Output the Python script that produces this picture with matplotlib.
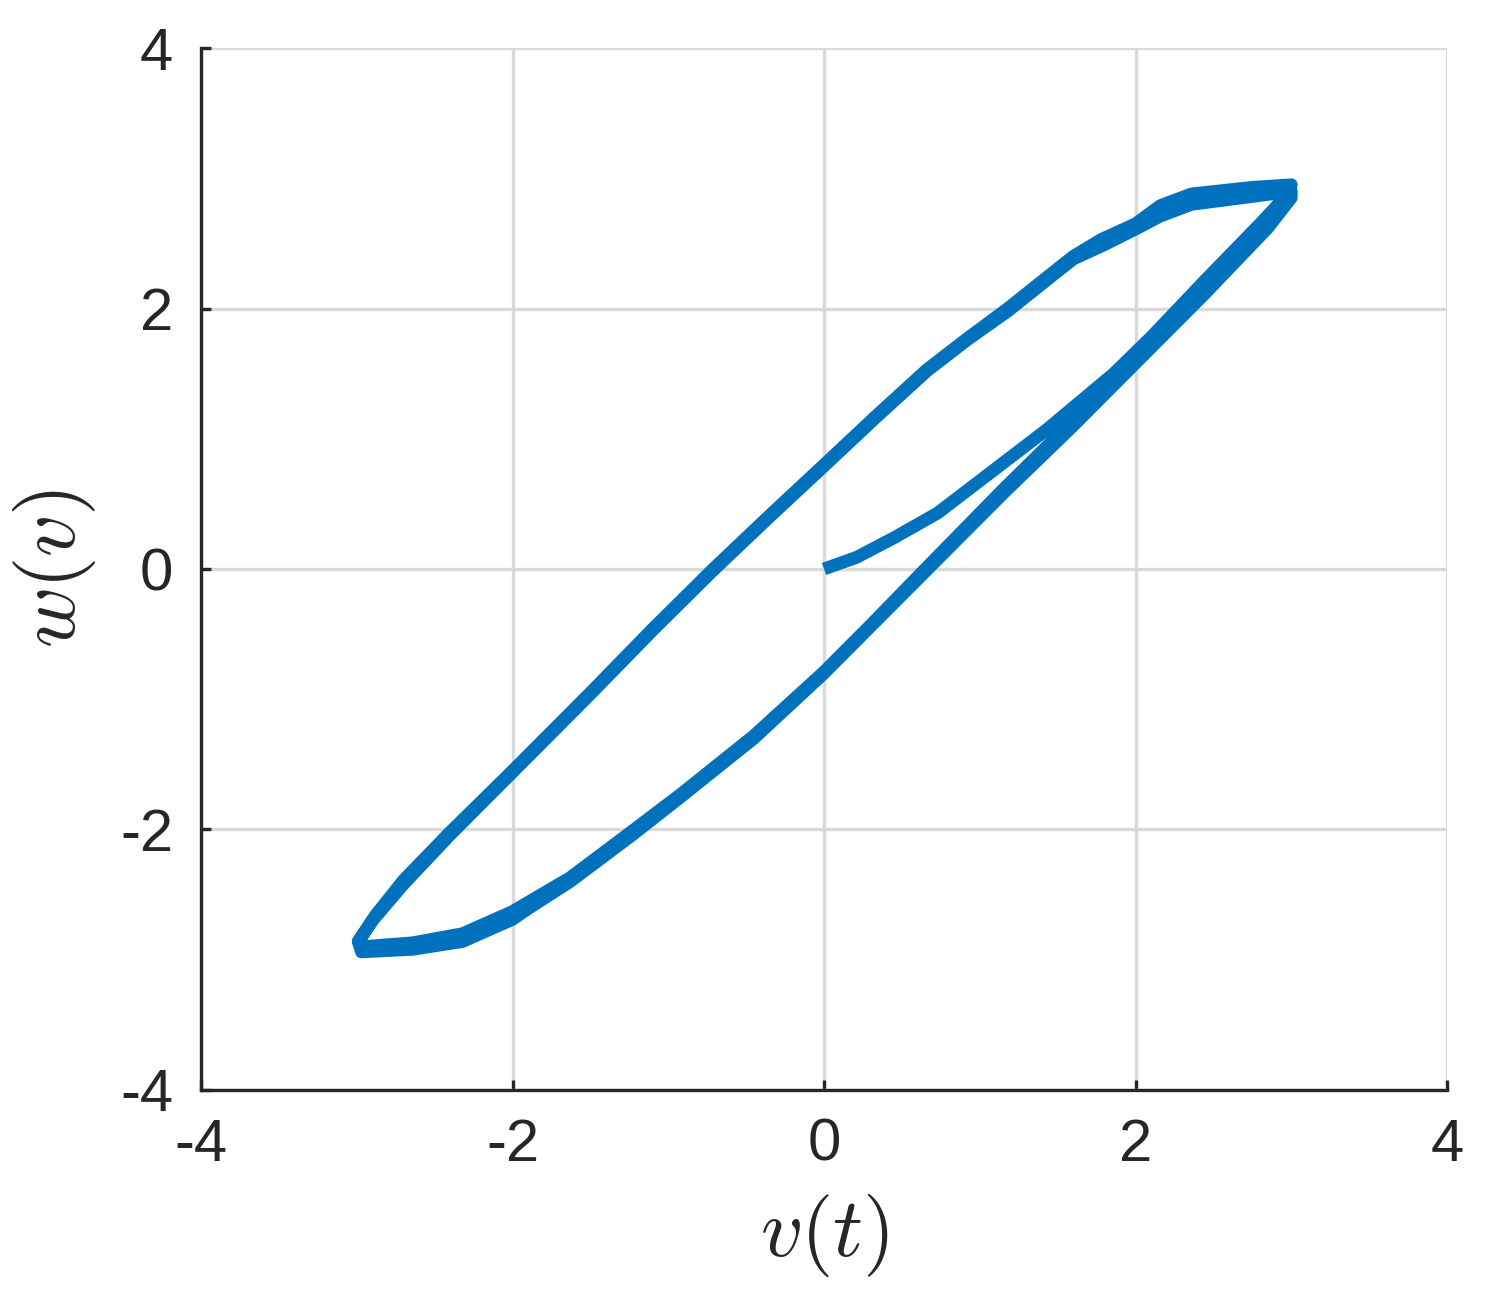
import numpy as np
import matplotlib
matplotlib.use("Agg")
import matplotlib.pyplot as plt

plt.rcParams['mathtext.fontset'] = 'cm'
plt.rcParams['axes.unicode_minus'] = False
plt.rcParams['font.family'] = ['Liberation Sans', 'DejaVu Sans']

# initial curve from the origin up to the right corner
v_init = [0.0, 0.21, 0.45, 0.73, 1.08, 1.43, 1.86, 2.10, 2.45, 2.80, 2.98, 3.00]
w_init = [0.0, 0.09, 0.24, 0.43, 0.75, 1.07, 1.50, 1.78, 2.22, 2.65, 2.88, 2.95]

# first cycle: upper branch (going left), then lower branch (going right)
v_up1 = [2.75, 2.36, 2.16, 2.00, 1.78, 1.60, 1.40, 1.18, 0.92, 0.66, 0.33, 0.00,
         -0.35, -0.72, -1.10, -1.50, -2.00, -2.40, -2.70, -2.88, -2.99, -2.97]
w_up1 = [2.93, 2.88, 2.79, 2.65, 2.53, 2.40, 2.21, 2.00, 1.77, 1.53, 1.17, 0.80,
         0.41, -0.01, -0.46, -0.95, -1.55, -2.02, -2.39, -2.66, -2.86, -2.94]
v_lo1 = [-2.64, -2.32, -2.00, -1.89, -1.63, -1.24, -0.92, -0.45, 0.00, 0.30, 0.65,
         1.15, 1.60, 2.00, 2.45, 2.85, 3.00, 3.00]
w_lo1 = [-2.92, -2.86, -2.69, -2.60, -2.40, -2.05, -1.75, -1.30, -0.80, -0.44, -0.02,
         0.58, 1.10, 1.58, 2.12, 2.62, 2.85, 2.90]

# second cycle, slightly shifted
v_up2 = [2.75, 2.36, 2.16, 2.00, 1.80, 1.60, 1.40, 1.18, 0.92, 0.66, 0.33, 0.00,
         -0.35, -0.72, -1.10, -1.50, -2.00, -2.40, -2.70, -2.90, -2.99, -2.96]
w_up2 = [2.86, 2.80, 2.71, 2.61, 2.49, 2.38, 2.19, 1.98, 1.76, 1.52, 1.16, 0.79,
         0.40, -0.02, -0.47, -0.96, -1.56, -2.04, -2.42, -2.70, -2.86, -2.90]
v_lo2 = [-2.64, -2.32, -2.00, -1.63, -1.24, -0.92, -0.45, 0.00, 0.30, 0.65, 1.15,
         1.60, 2.00, 2.45, 2.85, 2.99]
w_lo2 = [-2.87, -2.80, -2.63, -2.37, -2.02, -1.73, -1.28, -0.79, -0.43, 0.00, 0.61,
         1.14, 1.63, 2.20, 2.70, 2.90]

v = v_init + v_up1 + v_lo1 + v_up2 + v_lo2
w = w_init + w_up1 + w_lo1 + w_up2 + w_lo2

ticks = [-4, -2, 0, 2, 4]
text_col = '#262626'

fig = plt.figure(figsize=(7.435, 6.525), dpi=200)
ax = fig.add_axes([0.1352, 0.1648, 0.8379, 0.7984])

ax.plot(v, w, color='#0072BD', lw=4.6, solid_joinstyle='round', solid_capstyle='butt')

ax.set_xlim(-4, 4)
ax.set_ylim(-4, 4)
ax.set_xticks(ticks)
ax.set_yticks(ticks)
ax.set_xticklabels([str(t) for t in ticks])
ax.set_yticklabels([str(t) for t in ticks])

ax.grid(True, color='#d9d9d9', lw=1.2)
ax.set_axisbelow(True)
for s in ['top', 'right']:
    ax.spines[s].set_visible(False)
for s in ['left', 'bottom']:
    ax.spines[s].set_color(text_col)
    ax.spines[s].set_linewidth(1.2)
ax.tick_params(direction='in', length=3.6, width=1.2, colors=text_col,
               labelsize=21.5, pad=10)

ax.set_xlabel(r'$v(t)$', fontsize=30, color=text_col, labelpad=7)
ax.set_ylabel(r'$w(v)$', fontsize=30, color=text_col, labelpad=8)

fig.savefig('out.png', dpi=200)
